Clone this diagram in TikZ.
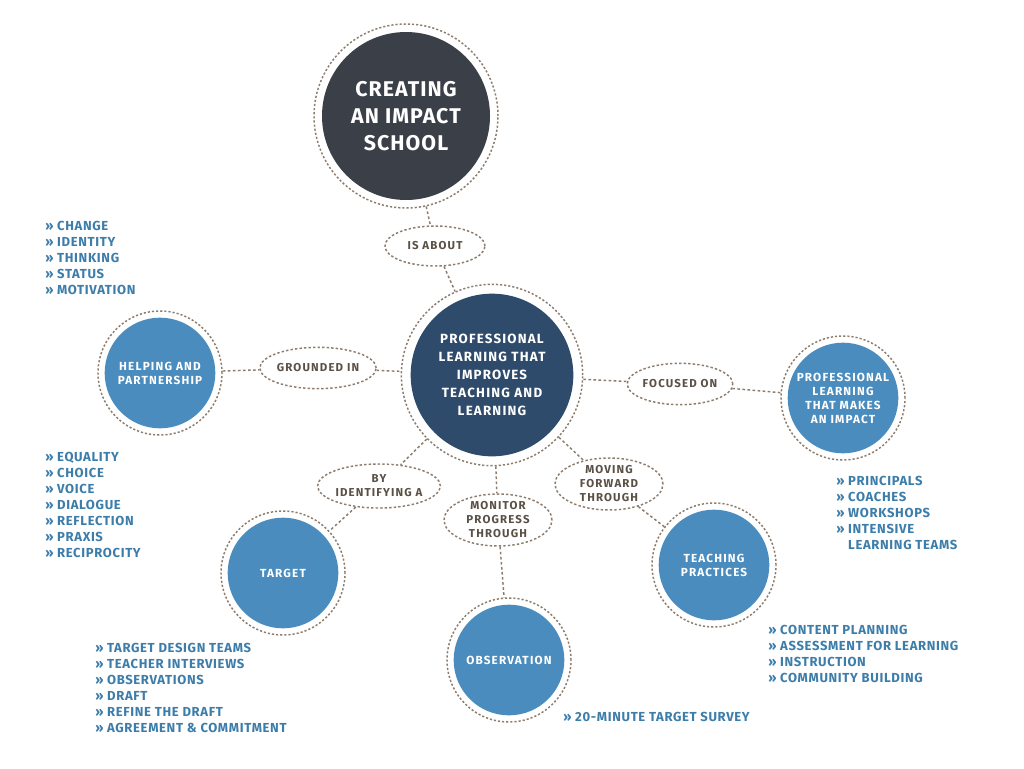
\documentclass[tikz,border=0pt]{standalone}
\usepackage{fontspec}
\setmainfont{Fira Sans}
\newfontfamily\bigsp{Fira Sans}[LetterSpace=5]
\newfontfamily\midsp{Fira Sans}[LetterSpace=9]
\newfontfamily\smsp{Fira Sans}[LetterSpace=10]
\newfontfamily\lstsp{Fira Sans}[LetterSpace=5]
\usetikzlibrary{shapes.geometric}
\definecolor{topfill}{HTML}{3B4048}
\definecolor{cenfill}{HTML}{2F4B6B}
\definecolor{bluefill}{HTML}{4A8CBE}
\definecolor{listblue}{HTML}{3D7DAA}
\definecolor{dotcol}{HTML}{8C7D6E}
\definecolor{elltext}{HTML}{5A5046}
\begin{document}
\begin{tikzpicture}[x=0.75pt,y=-0.75pt,
  ring/.style={circle, draw=dotcol, line width=1.1pt, dash pattern=on 1.6pt off 1.5pt,
    minimum size=#1, inner sep=0pt, text=white, align=center},
  topc/.style={ring=138pt, path picture={\fill[topfill] (path picture bounding box.center) circle (63pt);},
    font=\bigsp\bfseries\fontsize{16}{20}\selectfont},
  cenc/.style={ring=136pt, path picture={\fill[cenfill] (path picture bounding box.center) circle (61pt);},
    font=\midsp\bfseries\fontsize{10}{13.5}\selectfont},
  bluec/.style={ring=93pt, path picture={\fill[bluefill] (path picture bounding box.center) circle (41.5pt);},
    font=\smsp\bfseries\fontsize{8.8}{10.5}\selectfont},
  lab/.style={ellipse, draw=dotcol, line width=1.1pt, dash pattern=on 1.8pt off 1.6pt,
    inner sep=0pt, align=center, text=elltext, font=\smsp\bfseries\fontsize{8.6}{10.5}\selectfont},
  conn/.style={draw=dotcol, line width=1.1pt, dash pattern=on 2pt off 1.8pt},
  lst/.style={anchor=north west, inner sep=0pt, align=left, text=listblue,
    font=\lstsp\bfseries\fontsize{9.8}{12}\selectfont}
]
\useasboundingbox (0,0) rectangle (1024,768);
\fill[white] (0,0) rectangle (1024,768);

% circles
\node[topc] (top) at (406,116) {CREATING\\AN IMPACT\\SCHOOL};
\node[cenc] (cen) at (492,375) {PROFESSIONAL\\LEARNING THAT\\IMPROVES\\TEACHING AND\\LEARNING};
\node[bluec] (help) at (160,373) {HELPING AND\\PARTNERSHIP};
\node[bluec] (plmi) at (843,398) {PROFESSIONAL\\LEARNING\\THAT MAKES\\AN IMPACT};
\node[bluec] (target) at (283,573) {TARGET};
\node[bluec] (obs) at (509,660) {OBSERVATION};
\node[bluec] (teach) at (714,565) {TEACHING\\PRACTICES};

% labels
\node[lab, minimum width=75pt, minimum height=30pt] (about) at (435,246) {IS ABOUT};
\node[lab, minimum width=82pt, minimum height=31pt] (ground) at (318,368) {GROUNDED IN};
\node[lab, minimum width=75pt, minimum height=31pt] (focus) at (680,384) {FOCUSED ON};
\node[lab, minimum width=82pt, minimum height=33pt] (ident) at (379,486) {BY\\IDENTIFYING A};
\node[lab, minimum width=81pt, minimum height=39pt] (monitor) at (498,520) {MONITOR\\PROGRESS\\THROUGH};
\node[lab, minimum width=81pt, minimum height=39pt] (moving) at (609,484) {MOVING\\FORWARD\\THROUGH};

% connectors
\draw[conn] (top) -- (about);
\draw[conn] (about) -- (cen);
\draw[conn] (help) -- (ground);
\draw[conn] (ground) -- (cen);
\draw[conn] (cen) -- (focus);
\draw[conn] (focus) -- (plmi);
\draw[conn] (cen) -- (ident);
\draw[conn] (ident) -- (target);
\draw[conn] (cen) -- (monitor);
\draw[conn] (monitor) -- (obs);
\draw[conn] (cen) -- (moving);
\draw[conn] (moving) -- (teach);

% lists
\node[lst] (l1) at (45,221) {» CHANGE\\» IDENTITY\\» THINKING\\» STATUS\\» MOTIVATION};
\node[lst] (l2) at (45,452) {» EQUALITY\\» CHOICE\\» VOICE\\» DIALOGUE\\» REFLECTION\\» PRAXIS\\» RECIPROCITY};
\node[lst] (l3) at (836,476) {» PRINCIPALS\\» COACHES\\» WORKSHOPS\\» INTENSIVE\\\phantom{» }LEARNING TEAMS};
\node[lst] (l4) at (95,643) {» TARGET DESIGN TEAMS\\» TEACHER INTERVIEWS\\» OBSERVATIONS\\» DRAFT\\» REFINE THE DRAFT\\» AGREEMENT \& COMMITMENT};
\node[lst] (l5) at (768,625) {» CONTENT PLANNING\\» ASSESSMENT FOR LEARNING\\» INSTRUCTION\\» COMMUNITY BUILDING};
\node[lst] (l6) at (563,712) {» 20-MINUTE TARGET SURVEY};
\end{tikzpicture}
\end{document}
